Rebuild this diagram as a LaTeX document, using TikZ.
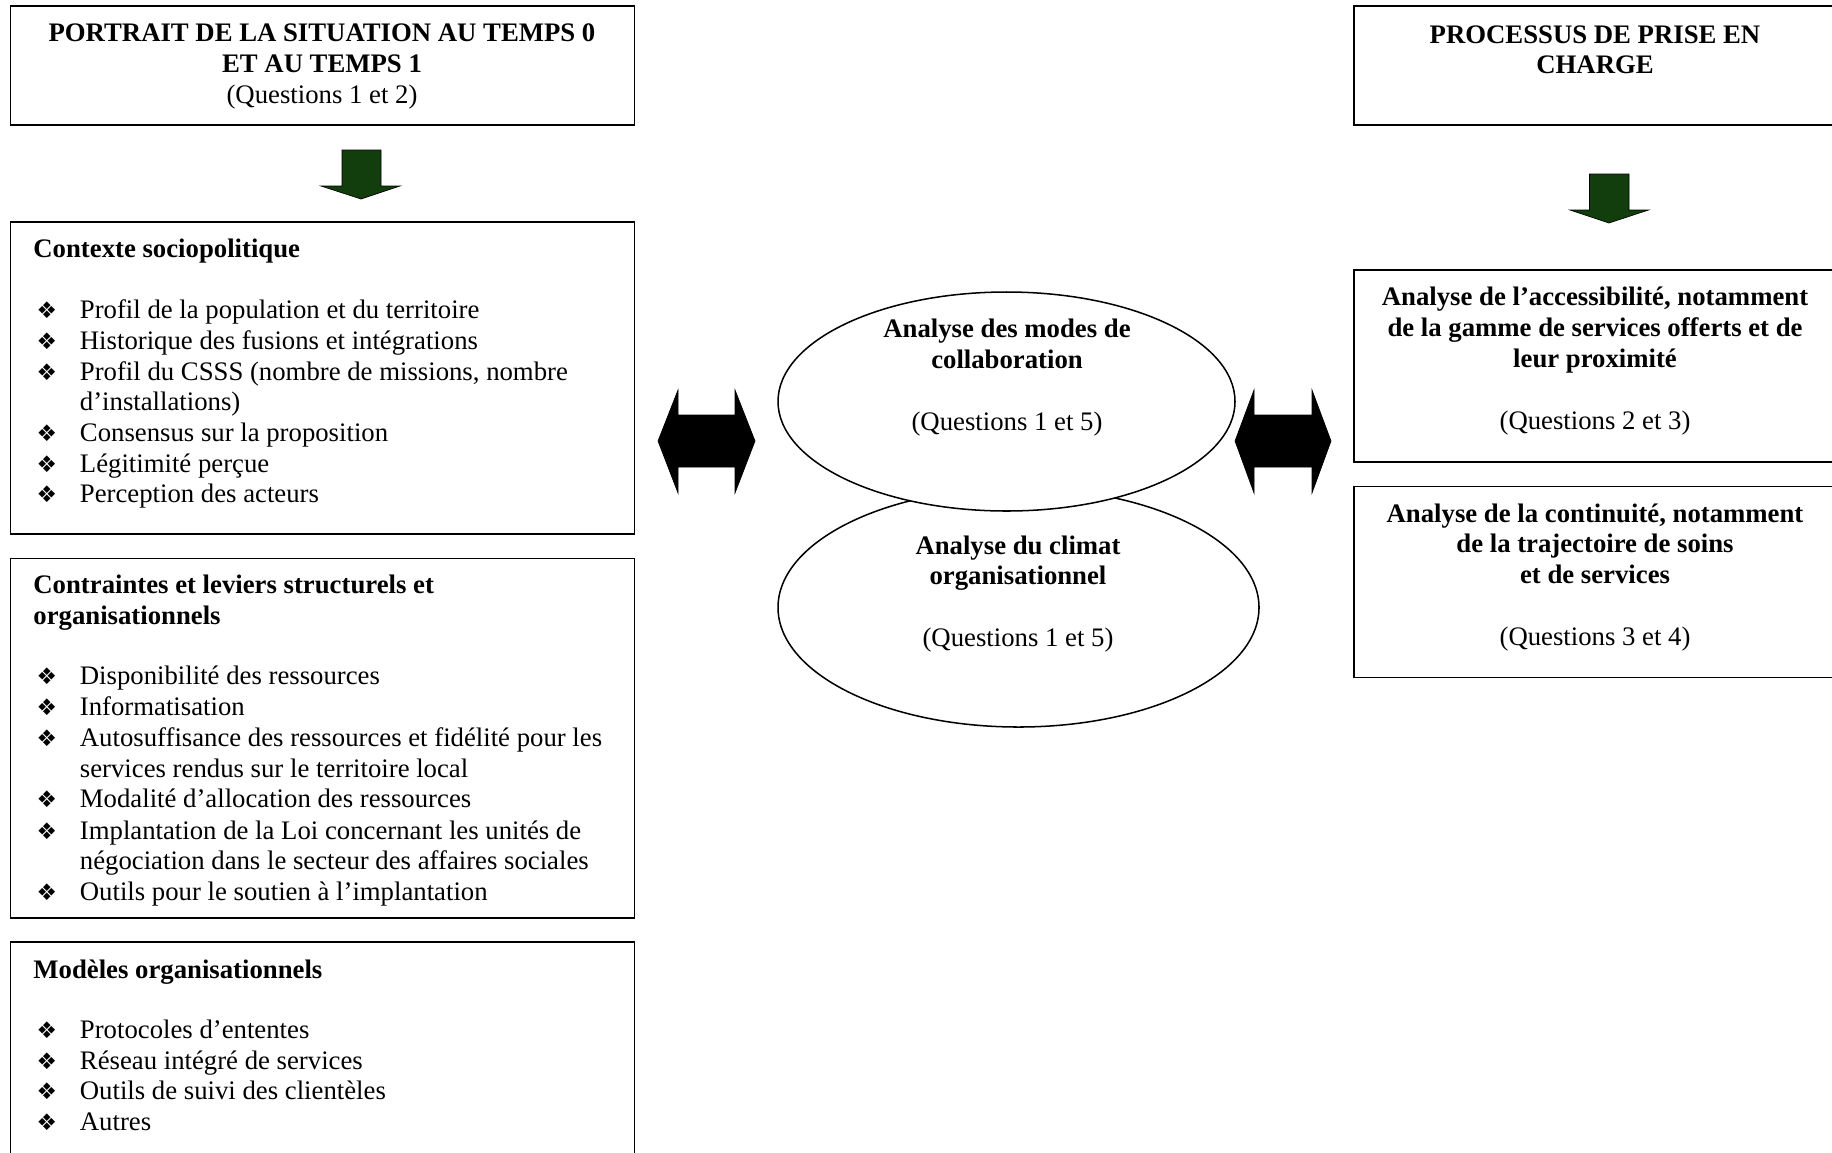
\documentclass[tikz,border=0pt]{standalone}
\usepackage{fontspec}
\setmainfont{Liberation Serif}
\newfontfamily\dingfont{DejaVu Sans}
\usetikzlibrary{shapes.geometric}
\definecolor{arrowgreen}{RGB}{18,62,14}
\newcommand{\px}{0.46pt}
\newcommand{\bul}{\makebox[19.55pt][l]{\hspace*{-0.4pt}\dingfont\fontsize{10.5}{10.5}\selectfont ❖}}

\tikzset{
  box/.style={draw, rectangle, line width=0.8pt, inner sep=0pt},
  oval/.style={draw, ellipse, line width=0.7pt, inner sep=0pt, fill=white},
  txt/.style={anchor=base west, inner sep=0pt, font=\fontsize{12.3}{14}\selectfont},
  btxt/.style={txt, font=\fontsize{12.3}{14}\selectfont\bfseries},
  ctxt/.style={anchor=base, inner sep=0pt, font=\fontsize{12.3}{14}\selectfont},
  cbtxt/.style={ctxt, font=\fontsize{12.3}{14}\selectfont\bfseries},
  dnarrow/.style={fill=arrowgreen, draw=black, line width=0.3pt},
  dblarrow/.style={fill=black, draw=black, line width=0.3pt}
}

\begin{document}
\begin{tikzpicture}[x=\px, y=-\px]
  \clip (0,0) rectangle (1832,1152);

  % boxes
  \node (portrait) [box, minimum width=624*\px, minimum height=119*\px] at (322.5,65.5) {};
  \node (contexte) [box, minimum width=624*\px, minimum height=312*\px] at (322.5,378) {};
  \node (contraintes) [box, minimum width=624*\px, minimum height=359.5*\px] at (322.5,738.2) {};
  \node (modeles) [box, minimum width=624*\px, minimum height=238*\px] at (322.5,1061) {};
  \node (processus) [box, minimum width=483*\px, minimum height=119*\px] at (1595.5,65.5) {};
  \node (acces) [box, minimum width=483*\px, minimum height=192*\px] at (1595.5,366) {};
  \node (continuite) [box, minimum width=483*\px, minimum height=191*\px] at (1595.5,582) {};

  % ellipses
  \node (climat) [oval, minimum width=481*\px, minimum height=239*\px] at (1018.5,607.5) {};
  \node (collab) [oval, minimum width=457*\px, minimum height=219*\px] at (1006.5,401.5) {};

  % block arrows
  \filldraw[dnarrow] (342,150) -- (381,150) -- (381,186) -- (400,186) -- (361,199) -- (321,186) -- (342,186) -- cycle;
  \filldraw[dnarrow] (1589.5,174) -- (1629,174) -- (1629,210) -- (1648.5,210) -- (1609,223) -- (1570,210) -- (1589.5,210) -- cycle;
  \filldraw[dblarrow] (658,441) -- (678,390) -- (678,415) -- (735,415) -- (735,390) -- (755,441) -- (735,493) -- (735,467) -- (678,467) -- (678,493) -- cycle;
  \filldraw[dblarrow] (1235,441) -- (1254,390) -- (1254,415) -- (1312,415) -- (1312,390) -- (1331,441) -- (1312,493) -- (1312,467) -- (1254,467) -- (1254,493) -- cycle;

  % portrait
  \node (p1) [cbtxt] at (322,41) {PORTRAIT DE LA SITUATION AU TEMPS 0};
  \node (p2) [cbtxt] at (322,72) {ET AU TEMPS 1};
  \node (p3) [ctxt] at (322,103) {(Questions 1 et 2)};

  % contexte sociopolitique
  \node (c0) [btxt] at (33,257) {Contexte sociopolitique};
  \node (c1) [txt] at (37,318) {\bul Profil de la population et du territoire};
  \node (c2) [txt] at (37,349) {\bul Historique des fusions et intégrations};
  \node (c3) [txt] at (37,380) {\bul Profil du CSSS (nombre de missions, nombre};
  \node (c4) [txt] at (79.5,410) {d’installations)};
  \node (c5) [txt] at (37,441) {\bul Consensus sur la proposition};
  \node (c6) [txt] at (37,472) {\bul Légitimité perçue};
  \node (c7) [txt] at (37,502) {\bul Perception des acteurs};

  % contraintes et leviers
  \node (s0) [btxt] at (33,593) {Contraintes et leviers structurels et};
  \node (s1) [btxt] at (33,624) {organisationnels};
  \node (s2) [txt] at (37,684) {\bul Disponibilité des ressources};
  \node (s3) [txt] at (37,715) {\bul Informatisation};
  \node (s4) [txt] at (37,746) {\bul Autosuffisance des ressources et fidélité pour les};
  \node (s5) [txt] at (79.5,777) {services rendus sur le territoire local};
  \node (s6) [txt] at (37,807) {\bul Modalité d’allocation des ressources};
  \node (s7) [txt] at (37,839) {\bul Implantation de la Loi concernant les unités de};
  \node (s8) [txt] at (79.5,869) {négociation dans le secteur des affaires sociales};
  \node (s9) [txt] at (37,900) {\bul Outils pour le soutien à l’implantation};

  % modeles organisationnels
  \node (m0) [btxt] at (33,978) {Modèles organisationnels};
  \node (m1) [txt] at (37,1038) {\bul Protocoles d’ententes};
  \node (m2) [txt] at (37,1069) {\bul Réseau intégré de services};
  \node (m3) [txt] at (37,1099) {\bul Outils de suivi des clientèles};
  \node (m4) [txt] at (37,1130) {\bul Autres};

  % ellipse texts
  \node (e1) [cbtxt] at (1007,337) {Analyse des modes de};
  \node (e2) [cbtxt] at (1007,368) {collaboration};
  \node (e3) [ctxt] at (1007,430) {(Questions 1 et 5)};
  \node (e4) [cbtxt] at (1018,554) {Analyse du climat};
  \node (e5) [cbtxt] at (1018,584) {organisationnel};
  \node (e6) [ctxt] at (1018,646) {(Questions 1 et 5)};

  % processus de prise en charge
  \node (r1) [cbtxt] at (1595,43) {PROCESSUS DE PRISE EN};
  \node (r2) [cbtxt] at (1595,73) {CHARGE};
  \node (a1) [cbtxt] at (1595,305) {Analyse de l’accessibilité, notamment};
  \node (a2) [cbtxt] at (1595,336) {de la gamme de services offerts et de};
  \node (a3) [cbtxt] at (1595,367) {leur proximité};
  \node (a4) [ctxt] at (1595,429) {(Questions 2 et 3)};
  \node (k1) [cbtxt] at (1595,522) {Analyse de la continuité, notamment};
  \node (k2) [cbtxt] at (1595,552) {de la trajectoire de soins};
  \node (k3) [cbtxt] at (1595,583) {et de services};
  \node (k4) [ctxt] at (1595,645) {(Questions 3 et 4)};
\end{tikzpicture}
\end{document}
